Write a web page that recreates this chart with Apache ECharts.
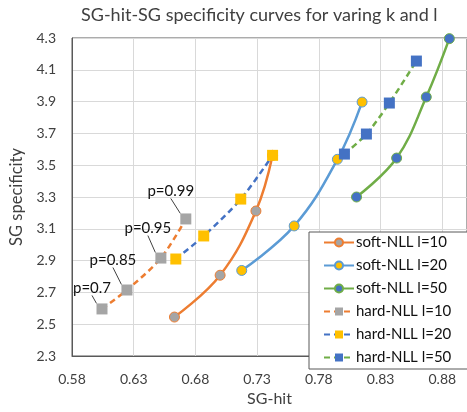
<!DOCTYPE html>
<html>
<head>
<meta charset="utf-8">
<script src="https://cdn.jsdelivr.net/npm/echarts@6/dist/echarts.min.js"></script>
<style>
  html, body { margin: 0; padding: 0; background: #fff; }
  #chart { width: 467px; height: 412px; }
</style>
</head>
<body>
<div id="chart"></div>
<script>
// values: [SG-hit, SG specificity]
var softL10 = [[0.663, 2.545], [0.700, 2.808], [0.729, 3.212], [0.7425, 3.562]];
var softL20 = [[0.7175, 2.838], [0.760, 3.118], [0.795, 3.537], [0.815, 3.897]];
var softL50 = [[0.8105, 3.300], [0.843, 3.545], [0.867, 3.929], [0.8857, 4.296]];
var hardL10 = [[0.6043, 2.596], [0.6245, 2.715], [0.652, 2.916], [0.6722, 3.162]];
var hardL20 = [[0.6641, 2.910], [0.6867, 3.055], [0.7167, 3.287], [0.7425, 3.562]];
var hardL50 = [[0.8007, 3.570], [0.8185, 3.696], [0.8371, 3.891], [0.859, 4.155]];
var pLabels = ['p=0.7', 'p=0.85', 'p=0.95', 'p=0.99'];

var FONT = 'Lato';
var TXT = '#404040';

// where each p= label sits relative to its point (px)
var labelOffsets = [[-10, -21], [-14, -30], [-13, -30], [-15, -28]];

var chart = echarts.init(document.getElementById('chart'));

function softSeries(name, data, lineColor, fill) {
  return {
    name: name, type: 'line', data: data, smooth: 0.4,
    symbol: 'circle', symbolSize: 10,
    lineStyle: { color: lineColor, width: 2.5 },
    itemStyle: { color: fill, borderColor: lineColor, borderWidth: 1 },
    z: 3
  };
}
function hardSeries(name, data, lineColor, fill) {
  return {
    name: name, type: 'line', data: data, smooth: 0.3,
    symbol: 'rect', symbolSize: 11,
    lineStyle: { color: lineColor, width: 2.5, type: [6, 4] },
    itemStyle: { color: fill, borderColor: fill, borderWidth: 0 },
    z: 4
  };
}

var h10 = hardSeries('hard-NLL l=10', hardL10.map(function (d, i) {
  return { value: d, label: { offset: labelOffsets[i] } };
}), '#ED7D31', '#A5A5A5');
h10.label = {
  show: true, position: 'inside', align: 'center', verticalAlign: 'middle',
  fontFamily: FONT, fontSize: 15, color: '#111',
  formatter: function (p) { return pLabels[p.dataIndex]; }
};
h10.labelLine = { show: true, lineStyle: { color: '#404040', width: 1 } };

var option = {
  animation: false,
  title: {
    text: 'SG-hit-SG specificity curves for varing k and l',
    left: 76, top: 1,
    textStyle: { fontFamily: FONT, fontSize: 18, fontWeight: 'normal', color: TXT }
  },
  grid: {
    left: 72, top: 38, right: -1, bottom: 56,
    show: true, borderColor: '#595959', borderWidth: 1
  },
  xAxis: {
    type: 'value', min: 0.58, max: 0.9, interval: 0.05,
    name: 'SG-hit', nameLocation: 'middle', nameGap: 33,
    nameTextStyle: { fontFamily: FONT, fontSize: 16, color: TXT },
    axisLine: { show: true, lineStyle: { color: '#595959' } },
    axisTick: { show: false },
    axisLabel: {
      fontFamily: FONT, fontSize: 14, color: TXT, margin: 16,
      showMaxLabel: false,
      formatter: function (v) { return v.toFixed(2); }
    },
    splitLine: { lineStyle: { color: '#D9D9D9' } }
  },
  yAxis: {
    type: 'value', min: 2.3, max: 4.3, interval: 0.2,
    name: 'SG specificity', nameLocation: 'middle', nameGap: 46,
    nameTextStyle: { fontFamily: FONT, fontSize: 16.5, color: TXT },
    axisLine: { show: true, lineStyle: { color: '#595959' } },
    axisTick: { show: false },
    axisLabel: {
      fontFamily: FONT, fontSize: 14, color: TXT, margin: 16,
      formatter: function (v) { return v.toFixed(1); }
    },
    splitLine: { lineStyle: { color: '#D9D9D9' } }
  },
  legend: {
    orient: 'vertical', left: 309, top: 232,
    width: 160, padding: [3, 20, 4, 14],
    backgroundColor: '#fff', borderColor: '#595959', borderWidth: 1,
    itemWidth: 30, itemHeight: 10, itemGap: 8,
    textStyle: { fontFamily: FONT, fontSize: 15, color: '#111', padding: [0, 0, 0, -3] }
  },
  series: [
    softSeries('soft-NLL l=10', softL10, '#ED7D31', '#A5A5A5'),
    softSeries('soft-NLL l=20', softL20, '#5B9BD5', '#FFC000'),
    softSeries('soft-NLL l=50', softL50, '#70AD47', '#4472C4'),
    h10,
    hardSeries('hard-NLL l=20', hardL20, '#4472C4', '#FFC000'),
    hardSeries('hard-NLL l=50', hardL50, '#70AD47', '#4472C4')
  ]
};
chart.setOption(option);
</script>
</body>
</html>
